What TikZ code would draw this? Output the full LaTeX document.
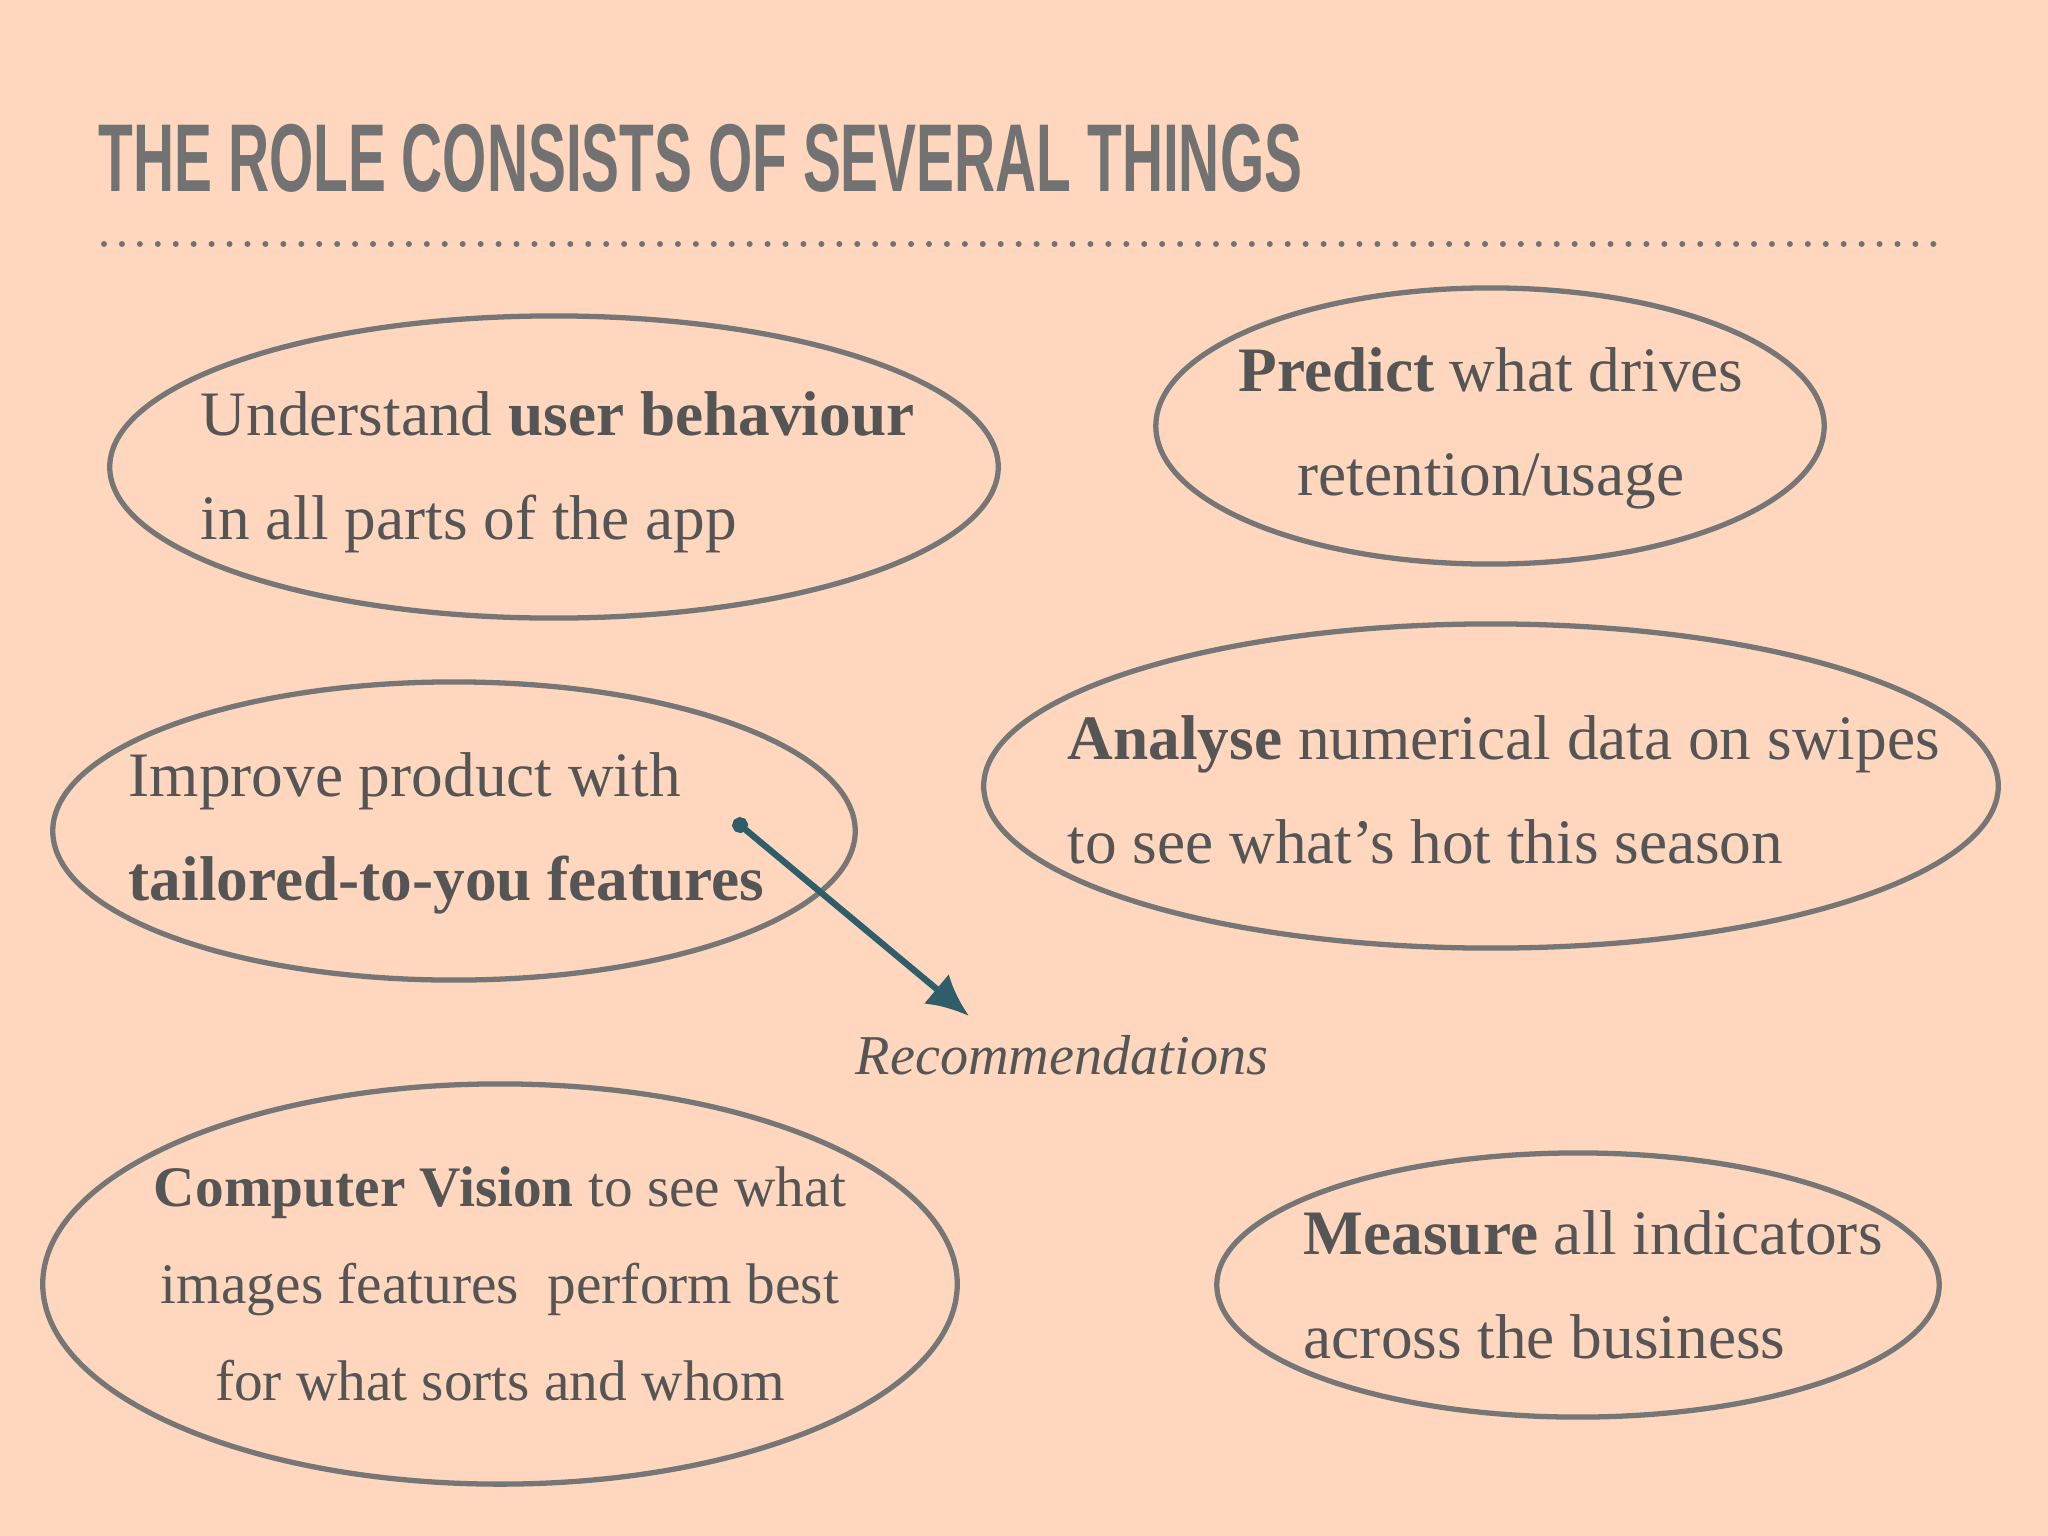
\documentclass[tikz,border=0pt]{standalone}
\usepackage{fontspec}
\setmainfont{Liberation Serif}
\newfontfamily\titlefont[FakeStretch=0.59]{Liberation Sans}
\usetikzlibrary{shapes.geometric,arrows.meta}
\definecolor{peach}{HTML}{FED7BE}
\definecolor{ringgray}{HTML}{767676}
\definecolor{titlegray}{HTML}{727272}
\definecolor{inkgray}{HTML}{555555}
\definecolor{arrowteal}{HTML}{2F5E6A}

\begin{document}
\begin{tikzpicture}[x=0.01cm,y=-0.01cm,
    ring/.style={draw=ringgray,line width=1.5pt,ellipse,inner sep=0pt},
    words/.style={text=inkgray,font=\fontsize{18}{29.6}\selectfont,inner sep=0pt}]
    \fill[peach] (0,0) rectangle (2048,1536);
    \useasboundingbox (0,0) rectangle (2048,1536);

    % heading and dotted rule
    \node[anchor=west,inner sep=0pt,text=titlegray,
          font=\titlefont\bfseries\fontsize{27.4}{30}\selectfont] (title) at (98,158)
          {THE ROLE CONSISTS OF SEVERAL THINGS};
    \draw[titlegray,line width=1.7pt,line cap=round,dash pattern=on 0pt off 5.1pt]
          (104,244) -- (1950,244);

    % the rings
    \node[ring,minimum width=8.88cm,minimum height=3.02cm] (understand) at (554,467) {};
    \node[ring,minimum width=6.68cm,minimum height=2.76cm] (predict)    at (1490,426) {};
    \node[ring,minimum width=8.02cm,minimum height=2.98cm] (improve)    at (454,831) {};
    \node[ring,minimum width=10.14cm,minimum height=3.24cm] (analyse)   at (1491,786) {};
    \node[ring,minimum width=9.14cm,minimum height=4.00cm] (vision)     at (500,1284) {};
    \node[ring,minimum width=7.22cm,minimum height=2.64cm] (measure)    at (1578,1285) {};

    % the texts
    \node[words,anchor=west,align=left] (understandtext) at (200,472)
          {Understand \textbf{user behaviour}\\in all parts of the app};
    \node[words,align=center] (predicttext) at (1491,428)
          {\textbf{Predict} what drives\\retention/usage};
    \node[words,anchor=west,align=left] (improvetext) at (128,833)
          {Improve product with\\\textbf{tailored-to-you features}};
    \node[words,anchor=west,align=left] (analysetext) at (1067,790)
          {\textbf{Analyse} numerical data on swipes\\to see what’s hot this season};
    \node[words,align=center,font=\fontsize{16.3}{27.5}\selectfont] (visiontext) at (500,1284)
          {\textbf{Computer Vision} to see what\\images features\ \ perform best\\for what sorts and whom};
    \node[words,anchor=west,align=left] (measuretext) at (1303,1285)
          {\textbf{Measure} all indicators\\across the business};

    % recommendations
    \node[text=inkgray,inner sep=0pt,font=\itshape\fontsize{16}{19}\selectfont] (recs) at (1062,1055)
          {Recommendations};
    \coordinate (arrowstart) at (734,820);
    \coordinate (arrowend) at (969,1016);
    \draw[arrowteal,line width=1.8pt,{Circle[length=4.5pt]}-{Latex[length=12pt,width=11pt]}]
          (arrowstart) -- (arrowend);
\end{tikzpicture}
\end{document}
